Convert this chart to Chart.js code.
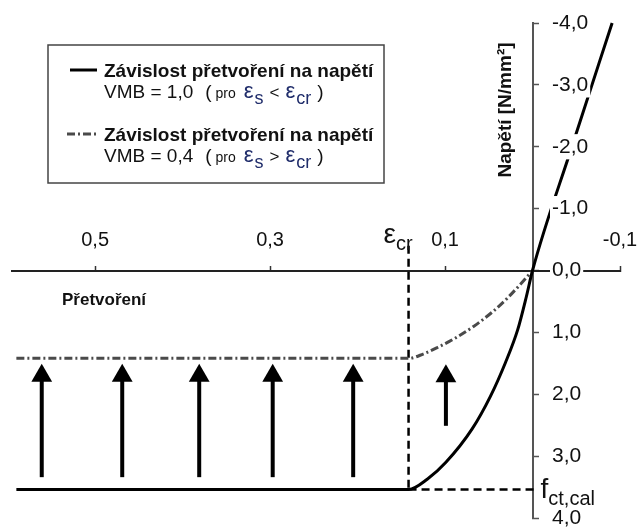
<!DOCTYPE html>
<html>
<head>
<meta charset="utf-8">
<script src="https://cdn.jsdelivr.net/npm/chart.js@4/dist/chart.umd.min.js"></script>
<style>
  html, body { margin: 0; padding: 0; background: #fff; }
  #wrap { width: 638px; height: 530px; }
</style>
</head>
<body>
<div id="wrap"><canvas id="c" width="638" height="530"></canvas></div>
<script>
const FONT = '"Liberation Sans", Arial, Helvetica, sans-serif';
const INK = '#111';
const GREEK = '#1f2c6a';

// VMB = 1,0 (pro εs < εcr): strain [-] / stress [N/mm²]
const strainVmb10 = [0.59, 0.1417, 0.120, 0.099, 0.069, 0.048, 0.031, 0.017, 0.007, 0, -0.045, -0.091];
const stressVmb10 = [3.54, 3.54, 3.37, 3.10, 2.56, 2.03, 1.49, 0.96, 0.42, 0, -2.0, -4.0];

// VMB = 0,4 (pro εs > εcr)
const strainVmb04 = [0.59, 0.1417, 0.125, 0.108, 0.088, 0.067, 0.045, 0.029, 0.015, 0];
const stressVmb04 = [1.42, 1.42, 1.35, 1.24, 1.09, 0.90, 0.66, 0.45, 0.24, 0];

// characteristic values
const epsCr = 0.1417;
const fctCal = 3.54;
const crGuideStress = [-0.4, 3.54];      // vertical guide at εcr
const fctGuideStrain = [0.1417, -0.005]; // horizontal guide at fct,cal

// arrows: strain position, tail stress, head stress
const arrowStrain = [0.561, 0.469, 0.381, 0.297, 0.205, 0.099];
const arrowTail   = [3.34, 3.34, 3.34, 3.34, 3.34, 2.51];
const arrowHead   = [1.70, 1.70, 1.70, 1.70, 1.70, 1.71];

// axis ticks
const xTicks = [0.5, 0.3, 0.1, -0.1];
const yTicks = [4, 3, 2, 1, 0, -1, -2, -3, -4];

// legend / annotation texts
const legendTitle = 'Závislost přetvoření na napětí';
const legendVmb = ['VMB = 1,0', 'VMB = 0,4'];
const legendRel = ['<', '>'];
const xTitle = 'Přetvoření';
const yTitle = 'Napětí [N/mm²]';

const fmt = v => v.toFixed(1).replace('.', ',');
const pts = (xs, ys) => xs.map((x, i) => ({ x, y: ys[i] }));

const SOLID = { borderColor: '#000', borderWidth: 3, borderDash: [] };
const DASHDOT = { borderColor: '#4a4a4a', borderWidth: 3, borderDash: [8, 3, 2, 3] };

const datasets = [
  {
    label: 'VMB = 1,0', data: pts(strainVmb10, stressVmb10),
    ...SOLID, cubicInterpolationMode: 'monotone', pointRadius: 0, clip: false
  },
  {
    label: 'VMB = 0,4', data: pts(strainVmb04, stressVmb04),
    ...DASHDOT, cubicInterpolationMode: 'monotone', pointRadius: 0, clip: false
  },
  {
    label: 'εcr', data: [{ x: epsCr, y: crGuideStress[0] }, { x: epsCr, y: crGuideStress[1] }],
    borderColor: '#000', borderWidth: 2.5, borderDash: [8, 5], pointRadius: 0, clip: false
  },
  {
    label: 'fct,cal', data: [{ x: fctGuideStrain[0], y: fctCal }, { x: fctGuideStrain[1], y: fctCal }],
    borderColor: '#000', borderWidth: 2.5, borderDash: [8, 5], pointRadius: 0, clip: false
  }
];

arrowStrain.forEach((s, i) => {
  datasets.push({
    label: 'arrow' + i,
    data: [{ x: s, y: arrowTail[i] }, { x: s, y: arrowHead[i] }],
    borderColor: '#000', borderWidth: 4, tension: 0,
    pointStyle: 'triangle', pointRadius: [0, 12], pointBorderWidth: 0,
    pointBackgroundColor: '#000', clip: false
  });
});

// scales are laid out with zero footprint so the chart area spans the whole plot
const noFootprint = (s) => {
  if (s.isHorizontal()) s.height = 0; else s.width = 0;
  s.paddingTop = s.paddingBottom = s.paddingLeft = s.paddingRight = 0;
};

function drawRich(ctx, x, baseline, parts) {
  parts.forEach(p => {
    x += p.gap || 0;
    ctx.font = (p.bold ? 'bold ' : '') + p.size + 'px ' + FONT;
    ctx.fillStyle = p.color || INK;
    ctx.fillText(p.t, x, baseline + (p.dy || 0));
    x += ctx.measureText(p.t).width;
  });
  return x;
}

const annotations = {
  id: 'annotations',
  afterDraw(chart) {
    const { ctx, scales: { x, y } } = chart;
    ctx.save();
    ctx.textAlign = 'left';
    ctx.textBaseline = 'alphabetic';

    // legend frame
    ctx.fillStyle = '#fff';
    ctx.fillRect(48, 45, 336, 138);
    ctx.strokeStyle = '#444';
    ctx.lineWidth = 1.5;
    ctx.strokeRect(48, 45, 336, 138);

    const styles = [SOLID, DASHDOT];
    [0, 1].forEach(i => {
      const top = 77 + i * 64;
      const st = styles[i];
      ctx.strokeStyle = st.borderColor;
      ctx.lineWidth = st.borderWidth;
      ctx.setLineDash(st.borderDash);
      ctx.beginPath();
      ctx.moveTo(i === 0 ? 70 : 67, top - 7);
      ctx.lineTo(97, top - 7);
      ctx.stroke();
      ctx.setLineDash([]);

      drawRich(ctx, 104, top, [{ t: legendTitle, size: 19, bold: true }]);
      const b2 = top + 21;
      drawRich(ctx, 104, b2, [
        { t: legendVmb[i], size: 19 },
        { t: '(', size: 19, gap: 12 },
        { t: 'pro', size: 14, gap: 4 },
        { t: 'ε', size: 22, gap: 8, color: GREEK },
        { t: 's', size: 18, gap: 1, dy: 6, color: GREEK },
        { t: legendRel[i], size: 17, gap: 6 },
        { t: 'ε', size: 22, gap: 6, color: GREEK },
        { t: 'cr', size: 18, gap: 1, dy: 6, color: GREEK },
        { t: ')', size: 19, gap: 6 }
      ]);
    });

    // εcr label above the guide line
    const xc = x.getPixelForValue(epsCr);
    drawRich(ctx, xc - 25, 243, [
      { t: 'ε', size: 28 },
      { t: 'cr', size: 20, dy: 7 }
    ]);

    // fct,cal label at the end of the guide line
    const yf = y.getPixelForValue(fctCal);
    drawRich(ctx, x.getPixelForValue(0) + 8, yf + 8, [
      { t: 'f', size: 28 },
      { t: 'ct,cal', size: 20, dy: 7 }
    ]);

    // axis titles
    drawRich(ctx, 62, 305, [{ t: xTitle, size: 17, bold: true }]);
    ctx.translate(506, 110);
    ctx.rotate(-Math.PI / 2);
    ctx.textAlign = 'center';
    ctx.textBaseline = 'middle';
    ctx.font = 'bold 19px ' + FONT;
    ctx.fillStyle = INK;
    ctx.fillText(yTitle, 0, 0);
    ctx.restore();
  }
};

Chart.defaults.font.family = FONT;
Chart.defaults.color = INK;

new Chart(document.getElementById('c'), {
  type: 'line',
  data: { datasets },
  options: {
    responsive: false,
    animation: false,
    devicePixelRatio: 1,
    layout: { padding: { left: 8.4, right: 18, top: 23, bottom: 9 } },
    plugins: { legend: { display: false }, tooltip: { enabled: false } },
    elements: { line: { borderJoinStyle: 'round', tension: 0 } },
    scales: {
      x: {
        type: 'linear', reverse: true, min: -0.1, max: 0.595,
        position: { y: 0 },
        afterBuildTicks: s => { s.ticks = xTicks.map(v => ({ value: v })); },
        afterFit: noFootprint,
        grid: { drawOnChartArea: false, tickLength: -6, tickWidth: 1.5, tickColor: '#333' },
        border: { display: true, color: '#222', width: 2 },
        ticks: {
          autoSkip: false, maxRotation: 0, minRotation: 0, padding: -36,
          color: INK, font: { size: 20 }, callback: v => fmt(v)
        }
      },
      y: {
        type: 'linear', reverse: true, min: -4, max: 4,
        position: { x: 0 },
        afterBuildTicks: s => { s.ticks = yTicks.map(v => ({ value: v })); },
        afterFit: noFootprint,
        grid: { drawOnChartArea: false, tickLength: -7, tickWidth: 1.5, tickColor: '#555' },
        border: { display: true, color: '#555', width: 2 },
        ticks: { display: false }
      },
      yl: {
        type: 'linear', reverse: true, min: -4, max: 4,
        position: 'left',
        afterBuildTicks: s => { s.ticks = yTicks.map(v => ({ value: v })); },
        afterFit: noFootprint,
        grid: { display: false },
        border: { display: false },
        ticks: {
          z: 1, mirror: true, padding: 540, crossAlign: 'near',
          color: INK, font: { size: 21 },
          showLabelBackdrop: true, backdropColor: '#fff',
          backdropPadding: { top: 0, bottom: 0, left: 2, right: 2 },
          callback: v => fmt(v)
        }
      }
    }
  },
  plugins: [annotations]
});
</script>
</body>
</html>
